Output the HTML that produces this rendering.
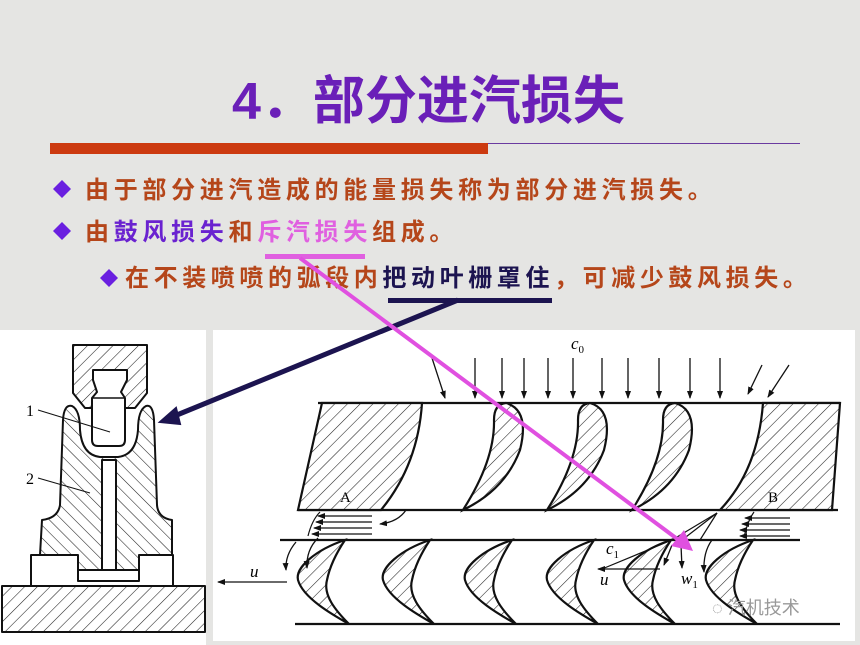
<!DOCTYPE html>
<html><head><meta charset="utf-8"><style>
html,body{margin:0;padding:0;background:#e5e5e3;}
svg{display:block}
.t{font-family:"Liberation Sans","Noto Sans CJK SC",sans-serif;font-weight:bold;}
.s{font-family:"Liberation Serif","Noto Serif CJK SC",serif;font-style:italic;font-size:17px;}
</style></head><body>
<svg width="860" height="645" viewBox="0 0 860 645" xmlns="http://www.w3.org/2000/svg">
<defs>
<pattern id="hb" width="9" height="9" patternUnits="userSpaceOnUse" patternTransform="rotate(45)"><rect width="9" height="9" fill="#fff"/><line x1="0" y1="0" x2="0" y2="9" stroke="#222" stroke-width="1.1"/></pattern>
<pattern id="hf" width="9" height="9" patternUnits="userSpaceOnUse" patternTransform="rotate(-45)"><rect width="9" height="9" fill="#fff"/><line x1="0" y1="0" x2="0" y2="9" stroke="#222" stroke-width="1.1"/></pattern>
<marker id="ar" markerWidth="8" markerHeight="6" refX="7" refY="3" orient="auto" markerUnits="userSpaceOnUse"><path d="M0,0L8,3L0,6z" fill="#111"/></marker>
<path id="rb" d="M0,0 C-30,10 -50,28 -47,40 C-42,58 -12,75 4,84 C-10,70 -22,55 -18,40 C-15,25 -8,12 0,0Z"/>
</defs>
<rect width="860" height="645" fill="#e5e5e3"/>
<!-- title -->
<text x="232" y="119" class="t" font-size="52" fill="#6a1fb8">4．部分进汽损失</text>
<rect x="50" y="143" width="438" height="11" fill="#cc3a10"/>
<line x1="488" y1="143.5" x2="800" y2="143.5" stroke="#6a3aa0" stroke-width="1"/>
<!-- bullets -->
<path d="M62,180l9,9l-9,9l-9,-9z" fill="#6a1fe0"/>
<text x="85" y="198" class="t" font-size="24" letter-spacing="4.7" fill="#b5461a">由于部分进汽造成的能量损失称为部分进汽损失。</text>
<path d="M62,222l9,9l-9,9l-9,-9z" fill="#6a1fe0"/>
<text x="85" y="240" class="t" font-size="24" letter-spacing="4.7" fill="#b5461a">由<tspan fill="#6a22d0">鼓风损失</tspan>和<tspan fill="#e060e0">斥汽损失</tspan>组成。</text>
<path d="M109,269l9,9l-9,9l-9,-9z" fill="#6a1fe0"/>
<text x="125" y="286" class="t" font-size="24" letter-spacing="4.6" fill="#b5461a">在不装喷喷的弧段内<tspan fill="#1c1450">把动叶栅罩住</tspan>，可减少鼓风损失。</text>
<rect x="265" y="254" width="100" height="5" fill="#e060e0"/>
<rect x="388" y="298" width="164" height="5" fill="#1c1450"/>
<!-- panels -->
<rect x="0" y="330" width="206" height="315" fill="#fff"/>
<rect x="213" y="330" width="642" height="311" fill="#fff"/>
<!-- left drawing -->
<g stroke="#111" stroke-width="2" stroke-linejoin="round">
<rect x="2" y="586" width="203" height="46" fill="url(#hb)"/>
<rect x="31" y="555" width="142" height="31" fill="#fff"/>
<path d="M72,406 Q64,404 63,420 L60,505 Q58,518 42,520 L40,555 L78,555 L78,572 L139,572 L139,555 L172,555 L172,520 Q158,518 157,505 L154,420 Q153,404 146,406 Q138,410 138,430 Q136,455 118,457 L100,457 Q82,455 80,430 Q80,410 72,406Z" fill="url(#hf)"/>
<rect x="102" y="460" width="14" height="112" fill="#fff"/>
<rect x="78" y="570" width="61" height="11" fill="#fff"/>
<path d="M73,345 L147,345 L147,393 L135,408 L85,408 L73,393Z" fill="url(#hb)"/>
<path d="M93,370 L127,370 L127,380 L121,392 L125,398 L125,440 Q125,446 119,446 L98,446 Q92,446 92,440 L92,398 L97,392 L93,380Z" fill="#fff"/>
<line x1="93" y1="398" x2="125" y2="398" stroke-width="1.5"/>
</g>
<g stroke="#111" stroke-width="1">
<line x1="38" y1="410" x2="110" y2="432"/><line x1="38" y1="478" x2="90" y2="493"/>
</g>
<text x="26" y="416" font-family="Liberation Serif" font-size="16">1</text>
<text x="26" y="484" font-family="Liberation Serif" font-size="16">2</text>
<!-- right drawing -->
<g stroke="#111" stroke-width="2.2" fill="none">
<line x1="318" y1="403" x2="840" y2="403"/>
<line x1="298" y1="510" x2="838" y2="510"/>
<line x1="280" y1="540" x2="800" y2="540"/>
<line x1="295" y1="624" x2="840" y2="624"/>
<path d="M322,403 L422,403 Q418,465 381,510 L298,510Z" fill="url(#hb)"/>
<path d="M763,403 L840,403 L832,510 L720,510 Q758,470 763,403Z" fill="url(#hb)"/>
<path d="M506,403 Q530,410 520,450 Q505,490 463,510 Q495,460 494,420 Q494,404 506,403Z" fill="url(#hb)"/>
<path d="M590,403 Q614,410 604,450 Q589,490 547,510 Q579,460 578,420 Q578,404 590,403Z" fill="url(#hb)"/>
<path d="M675,403 Q699,410 689,450 Q674,490 632,510 Q664,460 663,420 Q663,404 675,403Z" fill="url(#hb)"/>
</g>
<g stroke="#111" stroke-width="2.2" fill="url(#hb)">
<use href="#rb" x="345" y="540"/>
<use href="#rb" x="430" y="540"/>
<use href="#rb" x="512" y="540"/>
<use href="#rb" x="594" y="540"/>
<use href="#rb" x="671" y="540"/>
<use href="#rb" x="753" y="540"/>
</g>
<g stroke="#111" stroke-width="1.3" fill="none" marker-end="url(#ar)">
<line x1="475" y1="358" x2="475" y2="398"/><line x1="502" y1="358" x2="502" y2="398"/>
<line x1="524" y1="358" x2="524" y2="398"/><line x1="548" y1="358" x2="548" y2="398"/>
<line x1="573" y1="358" x2="573" y2="398"/><line x1="602" y1="358" x2="602" y2="398"/>
<line x1="628" y1="358" x2="628" y2="398"/><line x1="659" y1="358" x2="659" y2="398"/>
<line x1="690" y1="358" x2="690" y2="398"/><line x1="720" y1="358" x2="720" y2="398"/>
<line x1="432" y1="358" x2="445" y2="398"/>
<line x1="762" y1="365" x2="748" y2="394"/><line x1="789" y1="365" x2="768" y2="397"/>
<line x1="372" y1="516" x2="318" y2="516"/><line x1="372" y1="522" x2="316" y2="522"/>
<line x1="372" y1="528" x2="314" y2="528"/><line x1="372" y1="534" x2="312" y2="534"/>
<path d="M406,510 Q398,522 380,524"/>
<path d="M296,542 Q285,555 286,570"/><path d="M318,538 Q306,550 307,568"/>
<line x1="790" y1="518" x2="745" y2="518"/><line x1="790" y1="524" x2="742" y2="524"/>
<line x1="790" y1="530" x2="740" y2="530"/><line x1="790" y1="536" x2="740" y2="536"/>
<line x1="287" y1="582" x2="218" y2="582"/>
<line x1="660" y1="569" x2="598" y2="569"/>
<line x1="672" y1="545" x2="664" y2="565"/><line x1="681" y1="545" x2="682" y2="568"/>
<path d="M712,540 Q703,552 704,572"/>
</g>
<g stroke="#111" stroke-width="1.2" fill="none">
<path d="M308,536 Q312,520 320,512"/>
<path d="M744,538 Q747,522 754,512"/>
<line x1="717" y1="513" x2="672" y2="540"/><line x1="717" y1="513" x2="682" y2="540"/><line x1="717" y1="513" x2="700" y2="540"/>
<line x1="672" y1="540" x2="602" y2="569"/>
</g>
<text x="340" y="502" font-family="Liberation Serif" font-size="15">A</text>
<text x="768" y="502" font-family="Liberation Serif" font-size="15">B</text>
<text x="571" y="349" class="s">c<tspan font-size="11" font-style="normal" dy="4">0</tspan></text>
<text x="606" y="554" class="s">c<tspan font-size="11" font-style="normal" dy="4">1</tspan></text>
<text x="250" y="577" class="s">u</text>
<text x="600" y="585" class="s">u</text>
<text x="681" y="584" class="s">w<tspan font-size="11" font-style="normal" dy="4">1</tspan></text>
<text x="712" y="614" font-family="Liberation Sans,Noto Sans CJK SC,sans-serif" font-size="18" fill="#999">◌ 汽机技术</text>
<!-- connector arrows -->
<line x1="458" y1="300" x2="172" y2="417" stroke="#1c1450" stroke-width="5"/>
<path d="M160,422 L176,408 L180,424Z" fill="#1c1450" stroke="#1c1450" stroke-width="2"/>
<line x1="300" y1="258" x2="680" y2="541" stroke="#e050e0" stroke-width="4"/>
<path d="M693,551 L671,546 L684,530Z" fill="#e050e0"/>
</svg>
</body></html>
